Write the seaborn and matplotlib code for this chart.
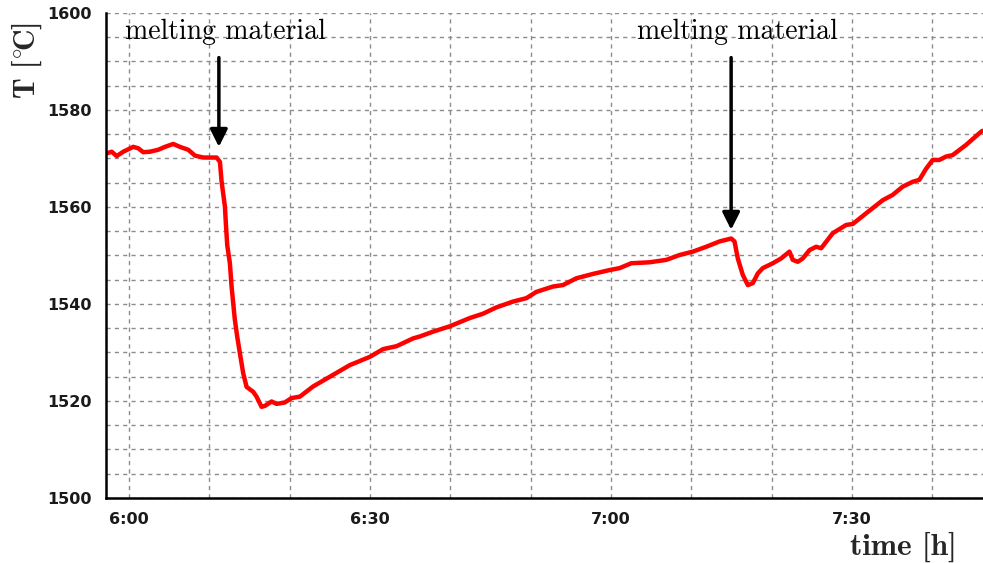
import matplotlib
matplotlib.use("Agg")
import matplotlib.pyplot as plt
from matplotlib.ticker import MultipleLocator, FuncFormatter
import seaborn as sns
import pandas as pd

# minutes after 6:00 and furnace temperature in degrees Celsius
minutes = [
    -2.70, -2.15, -1.53, -0.71, 0.53, 1.16, 1.78, 2.61, 3.64, 4.48, 5.51, 6.34,
    7.38, 8.21, 9.24, 10.91, 11.32, 11.53, 11.94, 12.06, 12.23, 12.56, 12.77,
    13.18, 13.47, 13.81, 14.22, 14.64, 15.46, 15.88, 16.50, 16.92, 17.75, 18.37,
    19.40, 20.24, 21.27, 22.92, 25.00, 27.49, 29.98, 31.63, 33.30, 35.36, 36.19,
    37.85, 39.93, 42.41, 44.07, 45.73, 47.80, 49.46, 50.71, 52.77, 54.02, 55.68,
    57.75, 59.83, 61.07, 62.52, 64.80, 66.88, 68.53, 70.19, 71.85, 73.51, 74.96,
    75.37, 75.78, 76.40, 77.03, 77.65, 78.27, 78.89, 80.14, 81.18, 82.21, 82.62,
    83.25, 83.87, 84.70, 85.53, 86.16, 87.60, 89.27, 90.09, 91.75, 93.82, 95.06,
    96.31, 97.55, 98.38, 99.22, 100.04, 100.87, 101.70, 102.52, 104.19, 105.84,
    106.22,
]
temperature = [
    1571.1, 1571.4, 1570.5, 1571.4, 1572.4, 1572.1, 1571.3, 1571.4, 1571.8,
    1572.4, 1573.0, 1572.4, 1571.8, 1570.6, 1570.2, 1570.2, 1569.3, 1565.2,
    1560.1, 1556.6, 1552.1, 1548.4, 1543.6, 1536.7, 1533.3, 1529.8, 1525.7,
    1522.9, 1521.9, 1520.9, 1518.8, 1519.0, 1519.9, 1519.4, 1519.7, 1520.6,
    1520.9, 1523.0, 1525.0, 1527.4, 1529.1, 1530.7, 1531.3, 1532.9, 1533.3,
    1534.3, 1535.4, 1537.1, 1538.0, 1539.3, 1540.5, 1541.2, 1542.5, 1543.6,
    1543.9, 1545.3, 1546.2, 1547.0, 1547.4, 1548.4, 1548.6, 1549.1, 1550.1,
    1550.8, 1551.8, 1552.9, 1553.5, 1552.9, 1549.4, 1546.0, 1543.9, 1544.3,
    1546.3, 1547.4, 1548.4, 1549.4, 1550.8, 1549.1, 1548.7, 1549.4, 1551.1,
    1551.8, 1551.5, 1554.6, 1556.3, 1556.5, 1558.7, 1561.4, 1562.5, 1564.2,
    1565.2, 1565.6, 1567.9, 1569.7, 1569.7, 1570.4, 1570.7, 1572.8, 1575.2,
    1575.7,
]

# material additions: arrow position (minutes) and arrow tip temperature
event_minutes = [11.19, 74.95]
event_tip = [1572.4, 1555.3]
event_label = "melting material"

df = pd.DataFrame({"minutes": minutes, "T": temperature})

sns.set_style("white")
plt.rcParams["font.family"] = ["DejaVu Sans"]
plt.rcParams["mathtext.fontset"] = "cm"

fig = plt.figure(figsize=(9.83, 5.63), dpi=100)
ax = fig.add_axes([106 / 983, 65 / 563, 1 - 106 / 983, 485 / 563])

sns.lineplot(data=df, x="minutes", y="T", ax=ax, color="#ff0000",
             linewidth=3.2, sort=False, estimator=None)

ax.set_xlim(-2.86, 106.3)
ax.set_ylim(1500, 1600)

ax.xaxis.set_major_locator(MultipleLocator(10))
ax.xaxis.set_minor_locator(MultipleLocator(5))
ax.yaxis.set_major_locator(MultipleLocator(5))
ax.yaxis.set_minor_locator(MultipleLocator(2.5))


def fmt_time(v, pos):
    m = int(round(v))
    if m % 30 != 0:
        return ""
    return f"{6 + m // 60}:{m % 60:02d}"


def fmt_temp(v, pos):
    t = int(round(v))
    return str(t) if t % 20 == 0 else ""


ax.xaxis.set_major_formatter(FuncFormatter(fmt_time))
ax.yaxis.set_major_formatter(FuncFormatter(fmt_temp))

ax.grid(True, which="major", color="#8c8c8c", linestyle=(0, (3, 3)),
        linewidth=1)
ax.set_axisbelow(True)

for side in ("top", "right"):
    ax.spines[side].set_visible(False)
for side in ("left", "bottom"):
    ax.spines[side].set_color("black")
    ax.spines[side].set_linewidth(1.8)

ax.tick_params(axis="both", which="both", direction="out", color="black",
               width=1, labelsize=11.5, labelcolor="#1a1a1a")
ax.tick_params(axis="both", which="major", length=4, pad=6)
ax.tick_params(axis="both", which="minor", length=3)
for lab in ax.get_xticklabels() + ax.get_yticklabels():
    lab.set_fontweight("bold")

ax.set_xlabel("")
ax.set_ylabel("")

label_x = [11.94, 75.75]
for xm, tip, lx in zip(event_minutes, event_tip, label_x):
    ax.annotate("", xy=(xm, tip), xytext=(xm, 1590.8),
                arrowprops=dict(arrowstyle="-|>", color="black", lw=2.5,
                                mutation_scale=26, shrinkA=0, shrinkB=0),
                annotation_clip=False)
    ax.text(lx, 1594.6, event_label, ha="center", va="baseline",
            fontsize=20, family="cmr10", color="black")

fig.text(27 / 983, 1 - 60 / 563, r"T [$^{\circ}\!$C]", rotation=90,
         ha="center", va="center", fontsize=21.5, family="cmb10")
fig.text(903 / 983, 1 - 547 / 563, "time [h]", ha="center",
         va="center", fontsize=22.5, family="cmb10")

fig.savefig("out.png", dpi=100)
